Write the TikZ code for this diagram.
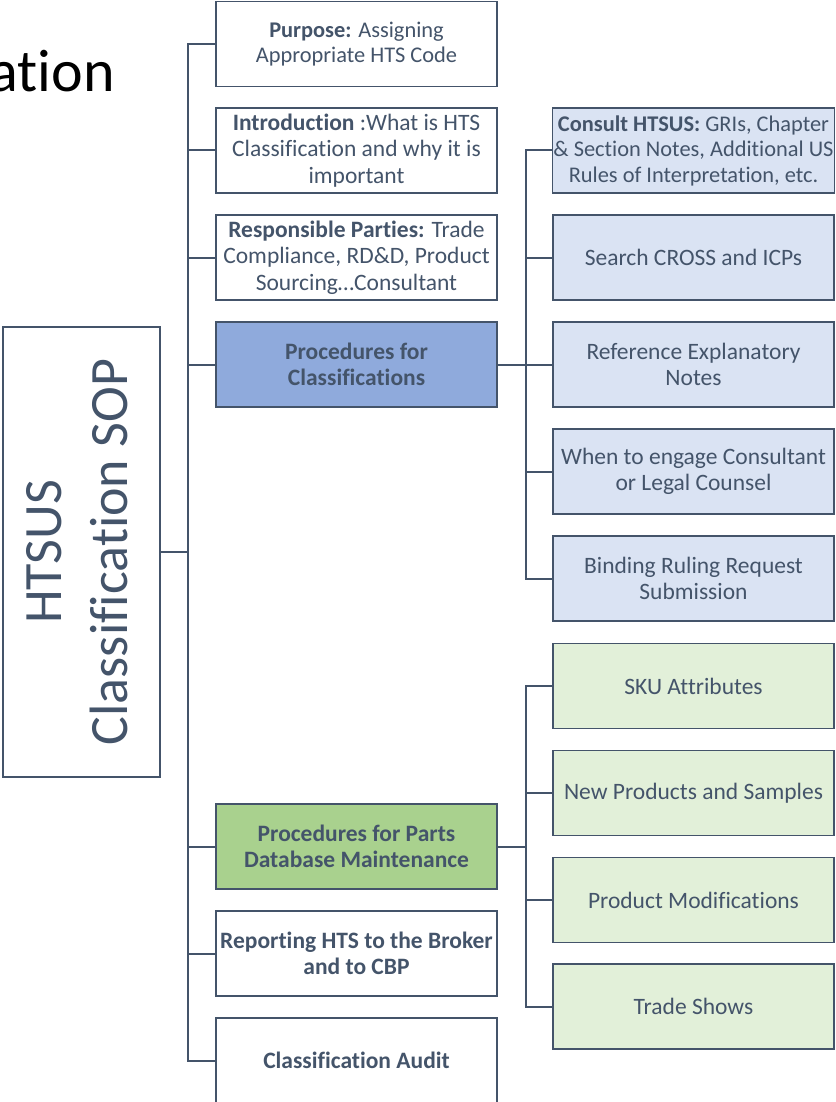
\documentclass[tikz,border=0pt]{standalone}
\usepackage{fontspec}
\setmainfont{Carlito}[Ligatures={NoCommon}]
\definecolor{ln}{HTML}{44546A}
\definecolor{bluemain}{HTML}{8FAADC}
\definecolor{bluesub}{HTML}{DAE3F3}
\definecolor{greenmain}{HTML}{A9D18E}
\definecolor{greensub}{HTML}{E2F0D9}
\begin{document}
\begin{tikzpicture}[x=1pt,y=-1pt,
  box/.style={draw=ln, line width=1.6pt, fill=white, minimum width=281pt, minimum height=85pt,
    inner sep=1pt, align=center, text=ln,
    font=\fontsize{23.5}{26.5}\selectfont},
  smallbox/.style={box, font=\fontsize{22.4}{25.5}\selectfont},
  bm/.style={box, fill=bluemain, font=\fontsize{23.5}{26.5}\selectfont\bfseries},
  bs/.style={box, fill=bluesub},
  gm/.style={box, fill=greenmain, font=\fontsize{23.5}{26.5}\selectfont\bfseries},
  gs/.style={box, fill=greensub},
  conn/.style={draw=ln, line width=2pt}]
\useasboundingbox (0,0) rectangle (835,1102);
\fill[white] (0,0) rectangle (835,1102);

\node[anchor=base east, font=\fontsize{60}{72}\selectfont, text=black, inner sep=0pt] (title) at (115,92) {ation};

\node[draw=ln, line width=1.6pt, minimum width=157pt, minimum height=450pt, inner sep=0pt, text=ln] (root) at (81.5,552)
  {\rotatebox{90}{\fontsize{54}{66}\selectfont\begin{tabular}{@{}c@{}}HTSUS\\Classification SOP\end{tabular}}};

\node[smallbox] (purpose) at (356.5,44) {\textbf{Purpose:} Assigning\\Appropriate HTS Code};
\node[box] (intro) at (356.5,150.5) {\textbf{Introduction} :What is HTS\\Classification and why it is\\important};
\node[box] (resp) at (356.5,257.5) {\textbf{Responsible Parties:} Trade\\Compliance, RD\&D, Product\\Sourcing…Consultant};
\node[bm] (pc) at (356.5,364.5) {Procedures for\\Classifications};
\node[gm] (pp) at (356.5,846.5) {Procedures for Parts\\Database Maintenance};
\node[box, font=\fontsize{23.5}{26.5}\selectfont\bfseries] (rep) at (356.5,953.5) {Reporting HTS to the Broker\\and to CBP};
\node[box, font=\fontsize{23.5}{26.5}\selectfont\bfseries] (audit) at (356.5,1060.5) {Classification Audit};

\node[bs, font=\fontsize{22.4}{25.5}\selectfont] (consult) at (693.5,150.5) {\textbf{Consult HTSUS:} GRIs, Chapter\\\& Section Notes, Additional US\\Rules of Interpretation, etc.};
\node[bs] (search) at (693.5,257.5) {Search CROSS and ICPs};
\node[bs] (refn) at (693.5,364.5) {Reference Explanatory\\Notes};
\node[bs] (engage) at (693.5,471.5) {When to engage Consultant\\or Legal Counsel};
\node[bs] (binding) at (693.5,578.5) {Binding Ruling Request\\Submission};

\node[gs] (sku) at (693.5,686) {SKU Attributes};
\node[gs] (newp) at (693.5,793) {New Products and Samples};
\node[gs] (mods) at (693.5,900) {Product Modifications};
\node[gs] (trade) at (693.5,1006.5) {Trade Shows};

\foreach \c in {purpose,intro,resp,pc,pp,rep,audit}
  \draw[conn] (root.east) -- ++(27,0) |- (\c.west);
\foreach \c in {consult,search,refn,engage,binding}
  \draw[conn] (pc.east) -- ++(28,0) |- (\c.west);
\foreach \c in {sku,newp,mods,trade}
  \draw[conn] (pp.east) -- ++(28,0) |- (\c.west);
\end{tikzpicture}
\end{document}
